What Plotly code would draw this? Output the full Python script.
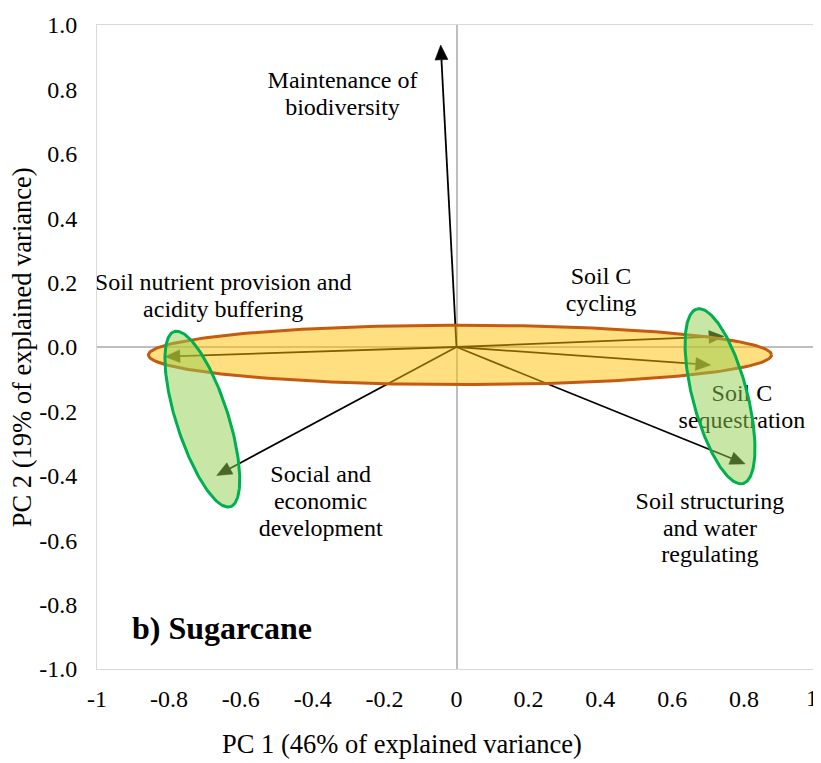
import numpy as np
import plotly.graph_objects as go

# ---------------- data ----------------
variables = [
    "Maintenance of biodiversity",
    "Soil nutrient provision and acidity buffering",
    "Social and economic development",
    "Soil C cycling",
    "Soil C sequestration",
    "Soil structuring and water regulating",
]
pc1 = [-0.044, -0.811, -0.667, 0.744, 0.707, 0.803]
pc2 = [0.938, -0.030, -0.399, 0.033, -0.056, -0.363]

label_lines = [
    ["Maintenance of", "biodiversity"],
    ["Soil nutrient provision and", "acidity buffering"],
    ["Social and", "economic", "development"],
    ["Soil C", "cycling"],
    ["Soil C", "sequestration"],
    ["Soil structuring", "and water", "regulating"],
]

x_tickvals = [-1, -0.8, -0.6, -0.4, -0.2, 0, 0.2, 0.4, 0.6, 0.8]
x_ticktext = ["-1", "-0.8", "-0.6", "-0.4", "-0.2", "0", "0.2", "0.4", "0.6", "0.8"]
x_last_tick = "1"
y_tickvals = [-1.0, -0.8, -0.6, -0.4, -0.2, 0.0, 0.2, 0.4, 0.6, 0.8, 1.0]
y_ticktext = ["-1.0", "-0.8", "-0.6", "-0.4", "-0.2", "0.0", "0.2", "0.4", "0.6", "0.8", "1.0"]

x_title = "PC 1 (46% of explained variance)"
y_title = "PC 2 (19% of explained variance)"
panel_title = "b) Sugarcane"

# ---------------- layout constants ----------------
PAGE_OFFSET = 8          # default body margin of the html page
W, H = 821 - PAGE_OFFSET, 763 - PAGE_OFFSET
ML, MR, MT, MB = 97 - PAGE_OFFSET, 4, 18 - PAGE_OFFSET, 94
XR = [-1, 1]
YR = [-1, 1]
PLOT_W = W - ML - MR
PLOT_H = H - MT - MB
PX_X = PLOT_W / (XR[1] - XR[0])
PX_Y = PLOT_H / (YR[1] - YR[0])

FONT = "Liberation Serif"
LABEL_SIZE = 24
TITLE_SIZE = 26.5
PANEL_SIZE = 32

HEAD_LEN_PX = 15
HEAD_W_PX = 13

# label placement (first line centre in data units) and line step in px
label_pos = [(-0.317, 0.822), (-0.649, 0.195), (-0.378, -0.401),
             (0.402, 0.2135), (0.794, -0.149), (0.705, -0.484)]
LINE_STEP_PX = 27

# ellipse shapes: centre (data), semi-axes (px), angle (deg), fill, line colour
ellipses = [
    dict(c=(0.0097, -0.0246), a=312, b=30, ang=0,
         fill="rgba(255,192,0,0.5)", line="#C55A11"),
    dict(c=(-0.707, -0.224), a=92.9, b=26, ang=107.6,
         fill="rgba(146,208,80,0.5)", line="#00B050"),
    dict(c=(0.733, -0.153), a=91.2, b=27.3, ang=104.6,
         fill="rgba(146,208,80,0.5)", line="#00B050"),
]


def ellipse_pts(c, a, b, ang, n=240):
    t = np.linspace(0, 2 * np.pi, n)
    th = np.radians(ang)
    u, v = a * np.cos(t), b * np.sin(t)
    dx = u * np.cos(th) - v * np.sin(th)
    dy = u * np.sin(th) + v * np.cos(th)
    return c[0] + dx / PX_X, c[1] + dy / PX_Y


def arrow_head(x, y):
    """Triangle (data coords) whose tip sits on (x, y), pointing away from origin."""
    px, py = x * PX_X, y * PX_Y
    n = np.hypot(px, py)
    ux, uy = px / n, py / n
    bx, by = px - HEAD_LEN_PX * ux, py - HEAD_LEN_PX * uy
    hx, hy = -uy * HEAD_W_PX / 2, ux * HEAD_W_PX / 2
    xs = [px, bx + hx, bx - hx, px]
    ys = [py, by + hy, by - hy, py]
    return [v / PX_X for v in xs], [v / PX_Y for v in ys], (bx / PX_X, by / PX_Y)


fig = go.Figure()

# arrows from the origin to each loading
for name, x, y in zip(variables, pc1, pc2):
    hx, hy, base = arrow_head(x, y)
    fig.add_trace(go.Scatter(
        x=[0, base[0]], y=[0, base[1]], mode="lines", name=name,
        line=dict(color="black", width=1.8),
        hoverinfo="skip", showlegend=False,
    ))
    fig.add_trace(go.Scatter(
        x=hx, y=hy, mode="lines", fill="toself", fillcolor="black",
        line=dict(color="black", width=0.5),
        hoverinfo="skip", showlegend=False,
    ))

# labels (drawn before ellipses so they sit under them)
for lines, (lx, ly) in zip(label_lines, label_pos):
    ys = [ly - i * LINE_STEP_PX / PX_Y for i in range(len(lines))]
    fig.add_trace(go.Scatter(
        x=[lx] * len(lines), y=ys, mode="text", text=lines,
        textposition="middle center",
        textfont=dict(family=FONT, size=LABEL_SIZE, color="black"),
        hoverinfo="skip", showlegend=False,
    ))

# ellipses on top (semi-transparent)
for e in ellipses:
    ex, ey = ellipse_pts(e["c"], e["a"], e["b"], e["ang"])
    fig.add_trace(go.Scatter(
        x=ex, y=ey, mode="lines", fill="toself", fillcolor=e["fill"],
        line=dict(color=e["line"], width=3),
        hoverinfo="skip", showlegend=False,
    ))

axis_common = dict(
    showgrid=False, zeroline=True, zerolinecolor="#BFBFBF", zerolinewidth=1.5,
    showline=True, mirror=True, linecolor="#D9D9D9", linewidth=1,
    ticks="", tickfont=dict(family=FONT, size=LABEL_SIZE, color="black"),
    fixedrange=True,
)

fig.update_layout(
    width=W, height=H,
    margin=dict(l=ML, r=MR, t=MT, b=MB),
    paper_bgcolor="white", plot_bgcolor="white",
    font=dict(family=FONT),
    xaxis=dict(range=XR, tickvals=x_tickvals, ticktext=x_ticktext,
               ticklabelstandoff=8, **axis_common),
    yaxis=dict(range=YR, tickvals=y_tickvals, ticktext=y_ticktext,
               ticklabelstandoff=14, ticklabeloverflow="allow", **axis_common),
    annotations=[
        dict(text=x_last_tick, xref="paper", yref="paper",
             x=(W - ML) / PLOT_W, y=-0.0455, xanchor="right", yanchor="middle",
             showarrow=False,
             font=dict(family=FONT, size=LABEL_SIZE, color="black")),
        dict(text=x_title, xref="paper", yref="paper", x=0.4236, y=-0.117,
             xanchor="center", yanchor="middle", showarrow=False,
             font=dict(family=FONT, size=TITLE_SIZE, color="black")),
        dict(text=y_title, xref="paper", yref="paper", x=-0.104, y=0.5,
             xanchor="center", yanchor="middle", textangle=-90, showarrow=False,
             font=dict(family=FONT, size=TITLE_SIZE, color="black")),
        dict(text="<b>" + panel_title + "</b>", xref="paper", yref="paper",
             x=(130 - 97) / PLOT_W, y=(669 - 628) / PLOT_H,
             xanchor="left", yanchor="middle", showarrow=False,
             font=dict(family=FONT, size=PANEL_SIZE, color="black")),
    ],
)

fig.write_html("out.html")
